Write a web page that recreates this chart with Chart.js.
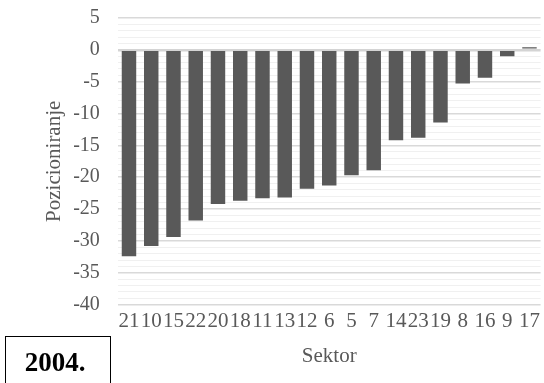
<!DOCTYPE html>
<html>
<head>
<meta charset="utf-8">
<script src="https://cdn.jsdelivr.net/npm/chart.js@4"></script>
<style>
  html, body { margin: 0; padding: 0; background: #fff; }
  #wrap { position: relative; width: 544px; height: 383px; }
  #godina {
    position: absolute; left: 5px; top: 336px; width: 106px; height: 50px;
    border: 1.5px solid #000; box-sizing: border-box;
    font: bold 27px "Liberation Serif", serif; text-align: center; line-height: 50px;
    padding-right: 6px;
  }
</style>
</head>
<body>
<div id="wrap">
  <canvas id="grafikon" width="544" height="383"></canvas>
  <div id="godina">2004.</div>
</div>
<script>
// sektori i vrijednosti pozicioniranja
var sektori = ['21', '10', '15', '22', '20', '18', '11', '13', '12', '6', '5', '7', '14', '23', '19', '8', '16', '9', '17'];
var pozicija = [-32.4, -30.8, -29.4, -26.8, -24.2, -23.7, -23.3, -23.2, -21.8, -21.3, -19.7, -18.9, -14.2, -13.8, -11.4, -5.3, -4.4, -1.0, 0.4];
var yMin = -40;
var yMax = 5;

var serif = '"Liberation Serif", "Times New Roman", serif';
var siva = '#595959';

new Chart(document.getElementById('grafikon').getContext('2d'), {
    type: 'bar',
    data: {
        labels: sektori,
        datasets: [{
            data: pozicija,
            backgroundColor: siva,
            borderWidth: 0,
            categoryPercentage: 1,
            barPercentage: 0.65
        }]
    },
    options: {
        responsive: false,
        animation: false,
        layout: { padding: { left: 42, right: 1, top: 18, bottom: 10 } },
        plugins: { legend: { display: false }, tooltip: { enabled: false } },
        scales: {
            x: {
                grid: { display: false, drawTicks: false },
                border: { display: false },
                ticks: {
                    color: siva,
                    font: { family: serif, size: 21 },
                    maxRotation: 0,
                    autoSkip: false,
                    padding: 4
                },
                title: {
                    display: true,
                    text: 'Sektor',
                    color: siva,
                    font: { family: serif, size: 21 },
                    padding: { top: 6 }
                }
            },
            y: {
                min: yMin,
                max: yMax,
                // bez dodatnog razmaka iznad gornje oznake
                afterFit: function(scale) {
                    scale.paddingTop = 0;
                },
                grid: {
                    drawTicks: false,
                    color: function(ctx) {
                        var v = ctx.tick.value;
                        if (v === 0) return '#d4d4d4';
                        return v % 5 === 0 ? '#d9d9d9' : '#f0f0f0';
                    },
                    lineWidth: function(ctx) {
                        var v = ctx.tick.value;
                        if (v === 0) return 2.5;
                        return v % 5 === 0 ? 1.5 : 1;
                    }
                },
                border: { display: false },
                ticks: {
                    stepSize: 1,
                    autoSkip: false,
                    padding: 18,
                    color: siva,
                    font: { family: serif, size: 20 },
                    callback: function(v) {
                        return v % 5 === 0 ? v : '';
                    }
                },
                title: {
                    display: true,
                    text: 'Pozicioniranje',
                    color: siva,
                    font: { family: serif, size: 21 },
                    padding: { top: 0, bottom: -12 }
                }
            }
        }
    }
});
</script>
</body>
</html>
